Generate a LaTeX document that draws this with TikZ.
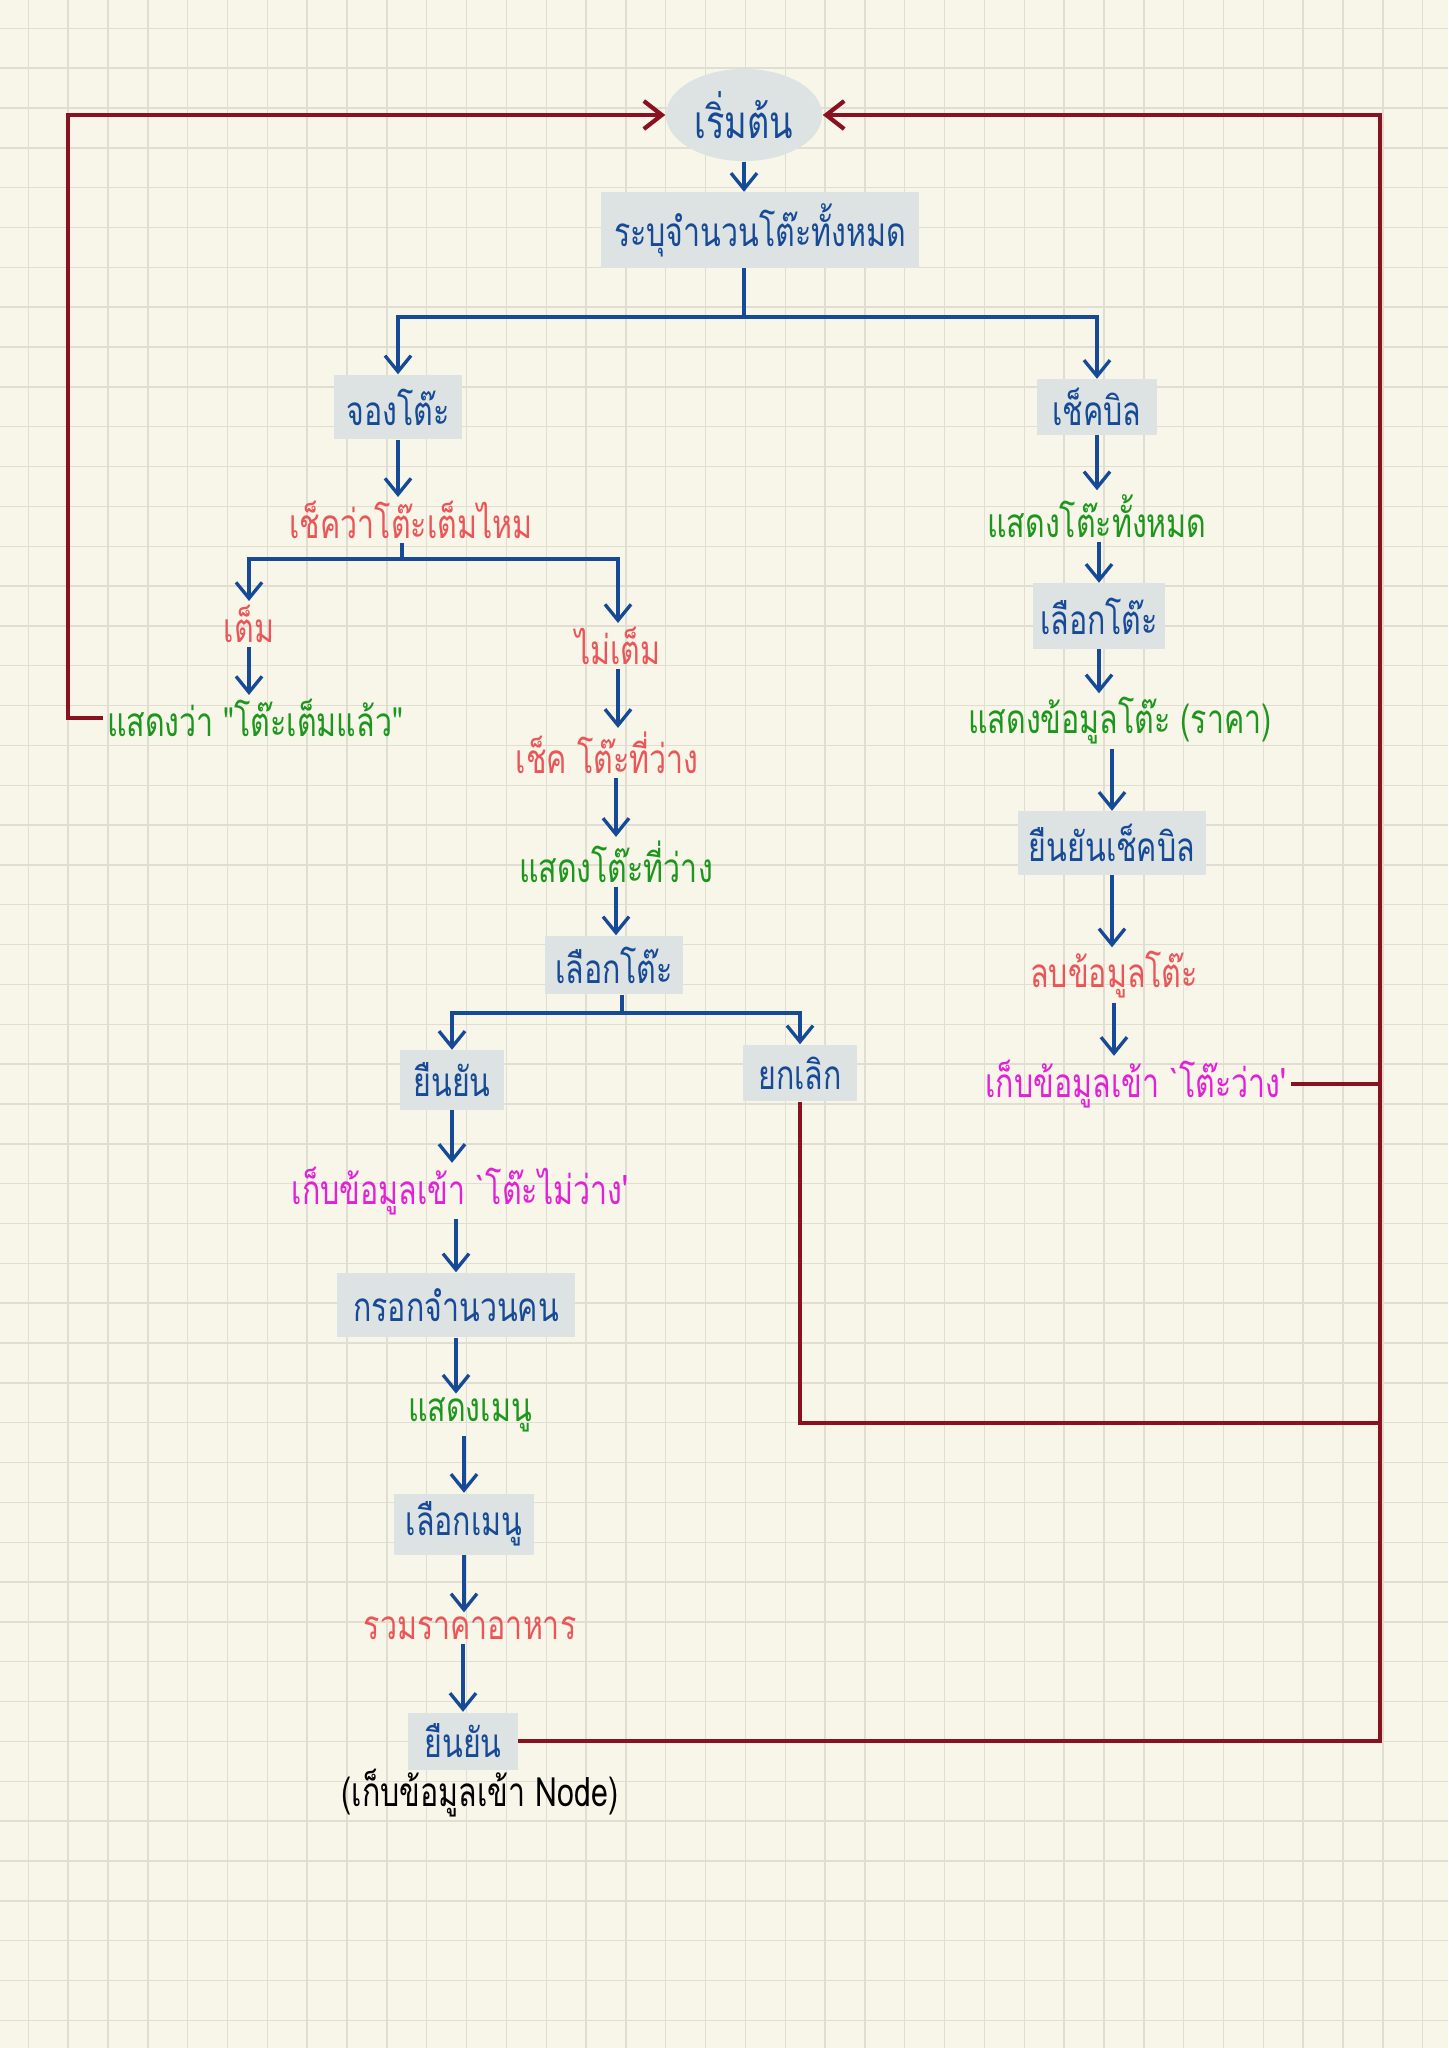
\documentclass[tikz,border=0pt]{standalone}
\usepackage{fontspec}
\newfontfamily\thaifont[Script=Thai, FakeStretch=0.75]{Loma}
\usepackage{tikz}
\usetikzlibrary{arrows.meta, positioning, shapes.geometric}

\definecolor{paper}{RGB}{248,245,233}
\definecolor{gridgray}{RGB}{224,221,210}
\definecolor{boxgray}{RGB}{221,226,226}
\definecolor{flowblue}{RGB}{22,74,150}
\definecolor{backred}{RGB}{138,18,32}
\definecolor{msgred}{RGB}{234,86,88}
\definecolor{msggreen}{RGB}{28,150,28}
\definecolor{msgpink}{RGB}{226,32,214}

\begin{document}
\begin{tikzpicture}[
			x=0.01cm, y=-0.01cm,
			font=\thaifont\fontsize{11.5}{14}\selectfont,
			block/.style={
				rectangle,
				fill=boxgray,
				text=flowblue,
				inner sep=2pt
			},
			startblock/.style={
				ellipse,
				fill=boxgray,
				text=flowblue,
				inner sep=0pt,
				minimum width=1.56cm,
				minimum height=0.92cm,
				font=\thaifont\fontsize{13}{16}\selectfont
			},
			redtext/.style={text=msgred, inner sep=1pt},
			greentext/.style={text=msggreen, inner sep=1pt},
			pinktext/.style={text=msgpink, inner sep=1pt},
			arrow/.style={
				-{Straight Barb[length=1.6mm, width=2.6mm]},
				draw=flowblue,
				line width=0.95pt
			},
			branch/.style={draw=flowblue, line width=0.95pt},
			back/.style={draw=backred, line width=1.2pt},
			backarrow/.style={back, -{Straight Barb[length=1.8mm, width=2.8mm]}},
			gridline/.style={draw=gridgray, line width=0.4pt}
			]
			
			% Paper and grid
			\fill[paper] (0,0) rectangle (1448,2048);
			\useasboundingbox (0,0) rectangle (1448,2048);
			\foreach \gx in {0,...,35}
				\draw[gridline] ({28.3+39.84*\gx},0) -- ++(0,2048);
			\foreach \gy in {0,...,50}
				\draw[gridline] (0,{28.3+39.84*\gy}) -- ++(1448,0);
			
			% Start
			\node[startblock] (start) at (744,115) {เริ่มต้น};
			
			% Block 1: Table count
			\node[block, minimum width=3.17cm, minimum height=0.75cm] (total) at (760,230) {ระบุจำนวนโต๊ะทั้งหมด};
			
			\draw[arrow] (start.south) -- (start.south |- total.north);
			
			% Block 2: Book / Check bill
			\node[block, minimum width=1.28cm, minimum height=0.64cm] (book) at (398,407) {จองโต๊ะ};
			\node[block, minimum width=1.19cm, minimum height=0.55cm] (checkbill) at (1097,407) {เช็คบิล};
			
			\coordinate (split) at (744,317);
			\draw[branch] (start.south |- total.south) -- (split);
			\draw[arrow] (split) -| (book.north);
			\draw[arrow] (split) -| (checkbill.north);
			
			% Block 3: Full or not
			\node[redtext] (isfull) at (411,520) {เช็คว่าโต๊ะเต็มไหม};
			
			\draw[arrow] (book.south) -- (book.south |- isfull.north);
			
			\node[redtext] (full) at (249,624) {เต็ม};
			\node[redtext] (notfull) at (618,646) {ไม่เต็ม};
			
			\coordinate (splitfull) at (402,559);
			\draw[branch] (splitfull |- isfull.south) -- (splitfull);
			\draw[arrow] (splitfull) -| (full.north);
			\draw[arrow] (splitfull) -| (notfull.north);
			
			% Block 4: Full message
			\node[greentext] (fullmsg) at (255,718) {แสดงว่า "โต๊ะเต็มแล้ว"};
			
			\draw[arrow] (full.south) -- (full.south |- fullmsg.north);
			
			\coordinate (leftrail) at (68,115);
			\draw[backarrow] (fullmsg.west) -- (fullmsg.west -| leftrail) -- (leftrail) -- (start.west);
			
			% Block 5: Free tables
			\node[redtext] (checkfree) at (607,753) {เช็ค โต๊ะที่ว่าง};
			
			\draw[arrow] (notfull.south) -- (notfull.south |- checkfree.north);
			
			\node[greentext] (showfree) at (616,862) {แสดงโต๊ะที่ว่าง};
			
			\draw[arrow] (checkfree.south -| showfree.north) -- (showfree.north);
			
			% Block 6: Pick table
			\node[block, minimum width=1.37cm, minimum height=0.58cm] (picktable) at (614,965) {เลือกโต๊ะ};
			
			\draw[arrow] (showfree.south) -- (showfree.south |- picktable.north);
			
			\node[block, minimum width=1.03cm, minimum height=0.59cm] (confirm) at (452,1080) {ยืนยัน};
			\node[block, minimum width=1.14cm, minimum height=0.56cm] (cancel) at (800,1073) {ยกเลิก};
			
			\coordinate (splitpick) at (622,1013);
			\draw[branch] (splitpick |- picktable.south) -- (splitpick);
			\draw[arrow] (splitpick) -| (confirm.north);
			\draw[arrow] (splitpick) -| (cancel.north);
			
			% Block 7: Save busy table
			\node[pinktext] (savebusy) at (460,1191) {เก็บข้อมูลเข้า `โต๊ะไม่ว่าง'};
			
			\draw[arrow] (confirm.south) -- (confirm.south |- savebusy.north);
			
			% Block 8: Number of people
			\node[block, minimum width=2.37cm, minimum height=0.64cm] (people) at (456,1305) {กรอกจำนวนคน};
			
			\draw[arrow] (people.north |- savebusy.south) -- (people.north);
			
			% Block 9: Menu
			\node[greentext] (showmenu) at (470,1415) {แสดงเมนู};
			
			\draw[arrow] (people.south) -- (people.south |- showmenu.north);
			
			\node[block, minimum width=1.40cm, minimum height=0.61cm] (pickmenu) at (464,1524) {เลือกเมนู};
			
			\draw[arrow] (pickmenu.north |- showmenu.south) -- (pickmenu.north);
			
			% Block 10: Total price
			\node[redtext] (sumprice) at (470,1628) {รวมราคาอาหาร};
			
			\draw[arrow] (pickmenu.south) -- (pickmenu.south |- sumprice.north);
			
			\node[block, minimum width=1.09cm, minimum height=0.57cm] (confirmorder) at (463,1741) {ยืนยัน};
			
			\draw[arrow] (confirmorder.north |- sumprice.south) -- (confirmorder.north);
			
			\node[text=black, inner sep=1pt] (savenode) at (480,1793) {(เก็บข้อมูลเข้า Node)};
			
			% Block 11: Bill side
			\node[greentext] (showall) at (1097,516) {แสดงโต๊ะทั้งหมด};
			
			\draw[arrow] (checkbill.south) -- (checkbill.south |- showall.north);
			
			\node[block, minimum width=1.27cm, minimum height=0.65cm] (pickbill) at (1099,616) {เลือกโต๊ะ};
			
			\draw[arrow] (pickbill.north |- showall.south) -- (pickbill.north);
			
			\node[greentext] (showinfo) at (1120,721) {แสดงข้อมูลโต๊ะ (ราคา)};
			
			\draw[arrow] (pickbill.south) -- (pickbill.south |- showinfo.north);
			
			\node[block, minimum width=1.87cm, minimum height=0.63cm] (confirmbill) at (1112,843) {ยืนยันเช็คบิล};
			
			\draw[arrow] (confirmbill.north |- showinfo.south) -- (confirmbill.north);
			
			\node[redtext] (deldata) at (1114,975) {ลบข้อมูลโต๊ะ};
			
			\draw[arrow] (confirmbill.south) -- (confirmbill.south |- deldata.north);
			
			\node[pinktext] (savefree) at (1136,1084) {เก็บข้อมูลเข้า `โต๊ะว่าง'};
			
			\draw[arrow] (deldata.south) -- (deldata.south |- savefree.north);
			
			% Return lines
			\coordinate (rightrail) at (1380,115);
			\draw[backarrow] (confirmorder.east) -- (confirmorder.east -| rightrail) -- (rightrail) -- (start.east);
			
			\coordinate (cancelturn) at (800,1423);
			\draw[back] (cancel.south) -- (cancelturn) -- (cancelturn -| rightrail);
			\draw[back] (savefree.east) -- (savefree.east -| rightrail);
			
		\end{tikzpicture}
\end{document}
